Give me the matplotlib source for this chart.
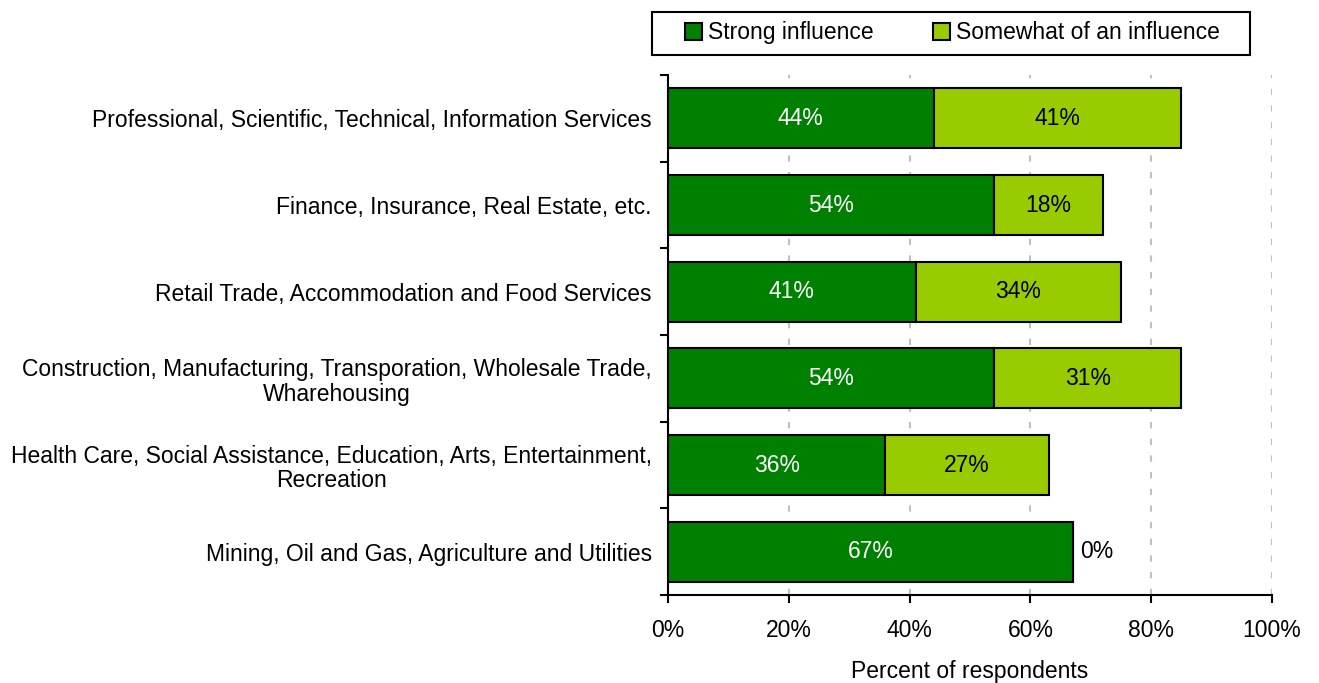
import matplotlib
matplotlib.use("Agg")
import matplotlib.pyplot as plt
from matplotlib.patches import Rectangle
import numpy as np

plt.rcParams['font.family'] = ['Liberation Sans', 'DejaVu Sans']

categories = [
    "Professional, Scientific, Technical, Information Services",
    "Finance, Insurance, Real Estate, etc.",
    "Retail Trade, Accommodation and Food Services",
    "Construction, Manufacturing, Transporation, Wholesale Trade,\nWharehousing",
    "Health Care, Social Assistance, Education, Arts, Entertainment,\nRecreation",
    "Mining, Oil and Gas, Agriculture and Utilities",
]
strong = [44, 54, 41, 54, 36, 67]
somewhat = [41, 18, 34, 31, 27, 0]
series_names = ["Strong influence", "Somewhat of an influence"]
xticks = [0, 20, 40, 60, 80, 100]

dark = "#008000"
light = "#99CC00"

fig = plt.figure(figsize=(13.19, 6.83), dpi=100)
ax = fig.add_axes([0.5064, 0.1288, 0.4580, 0.7614])

y = np.arange(len(categories))[::-1]
h = 0.69
b1 = ax.barh(y, strong, height=h, color=dark, edgecolor="black", linewidth=1.5, label=series_names[0], zorder=3)
b2 = ax.barh(y, somewhat, left=strong, height=h, color=light, edgecolor="black", linewidth=1.5, label=series_names[1], zorder=3)

fs = 16.5
for yi, s, w in zip(y, strong, somewhat):
    ax.text(s / 2, yi, f"{s}%", ha="center", va="center", color="white", fontsize=fs, zorder=4)
    if w > 0:
        ax.text(s + w / 2, yi, f"{w}%", ha="center", va="center", color="black", fontsize=fs, zorder=4)
    else:
        ax.text(s + 1.2, yi, f"{w}%", ha="left", va="center", color="black", fontsize=fs, zorder=4)

ax.set_xlim(0, 100)
ax.set_ylim(-0.5, len(categories) - 0.5)
ax.set_xticks(xticks)
ax.set_xticklabels([f"{t}%" for t in xticks], fontsize=fs)
ax.set_yticks(y)
ax.set_yticklabels(categories, fontsize=fs, ha="right", multialignment="center",
                   linespacing=1.1)
ax.tick_params(axis="y", length=0, pad=11.5)
ax.set_yticks(np.arange(-0.5, len(categories), 1.0), minor=True)
ax.tick_params(axis="y", which="minor", length=6, width=1.5, direction="out")
ax.tick_params(axis="x", length=6, width=1.5, direction="out", pad=11)

ax.grid(axis="x", color="#C0C0C0", linestyle=(0, (3, 5)), linewidth=1.5, zorder=0)
for side in ["top", "right"]:
    ax.spines[side].set_visible(False)
ax.spines["left"].set_linewidth(1.5)
ax.spines["bottom"].set_linewidth(1.5)

ax.set_xlabel("Percent of respondents", fontsize=fs, labelpad=13)

# legend entries without their own frame; a separate box is drawn around them
leg = fig.legend(handles=[b1, b2], labels=series_names, loc="center left",
                 bbox_to_anchor=(0.5193, 0.9517), ncol=2, fontsize=fs,
                 frameon=False, handlelength=0.75, handleheight=0.75,
                 handletextpad=0.26, columnspacing=2.6,
                 borderpad=0, borderaxespad=0)
fig.add_artist(Rectangle((0.4943, 0.9195), 0.4534, 0.0629, transform=fig.transFigure,
                         facecolor="none", edgecolor="black", linewidth=1.5))

fig.savefig("out.png", dpi=100)
